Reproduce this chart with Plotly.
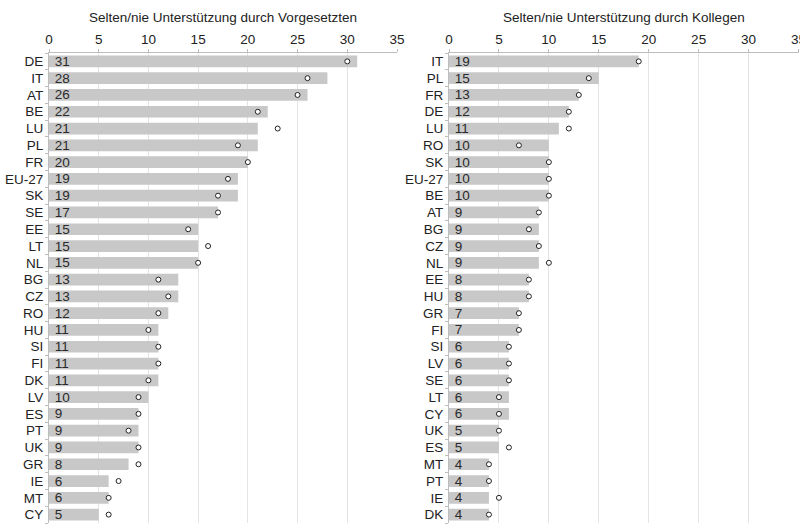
import plotly.graph_objects as go

# Left panel: Vorgesetzte
left_cats = ["DE", "IT", "AT", "BE", "LU", "PL", "FR", "EU-27", "SK", "SE", "EE", "LT", "NL",
             "BG", "CZ", "RO", "HU", "SI", "FI", "DK", "LV", "ES", "PT", "UK", "GR", "IE", "MT", "CY"]
left_bars = [31, 28, 26, 22, 21, 21, 20, 19, 19, 17, 15, 15, 15,
             13, 13, 12, 11, 11, 11, 11, 10, 9, 9, 9, 8, 6, 6, 5]
left_marks = [30, 26, 25, 21, 23, 19, 20, 18, 17, 17, 14, 16, 15,
              11, 12, 11, 10, 11, 11, 10, 9, 9, 8, 9, 9, 7, 6, 6]

# Right panel: Kollegen
right_cats = ["IT", "PL", "FR", "DE", "LU", "RO", "SK", "EU-27", "BE", "AT", "BG", "CZ", "NL",
              "EE", "HU", "GR", "FI", "SI", "LV", "SE", "LT", "CY", "UK", "ES", "MT", "PT", "IE", "DK"]
right_bars = [19, 15, 13, 12, 11, 10, 10, 10, 10, 9, 9, 9, 9,
              8, 8, 7, 7, 6, 6, 6, 6, 6, 5, 5, 4, 4, 4, 4]
right_marks = [19, 14, 13, 12, 12, 7, 10, 10, 10, 9, 8, 9, 10,
               8, 8, 7, 7, 6, 6, 6, 5, 5, 5, 6, 4, 4, 5, 4]

left_title = "Selten/nie Unterstützung durch Vorgesetzten"
right_title = "Selten/nie Unterstützung durch Kollegen"
x_ticks = [0, 5, 10, 15, 20, 25, 30, 35]

FONT = "Liberation Sans, Arial, sans-serif"
BAR_COLOR = "#c8c8c8"
TXT = "#222222"

fig = go.Figure()

for cats, bars, marks, xa, ya in [
    (left_cats, left_bars, left_marks, "x", "y"),
    (right_cats, right_bars, right_marks, "x2", "y2"),
]:
    fig.add_trace(go.Bar(
        y=cats, x=bars, orientation="h",
        marker=dict(color=BAR_COLOR, line=dict(width=0)),
        width=0.7,
        text=["\u2009" + str(v) for v in bars],
        textposition="inside", insidetextanchor="start", textangle=0,
        textfont=dict(family=FONT, size=13.5, color="#2a2a2a"),
        constraintext="none",
        xaxis=xa, yaxis=ya, showlegend=False, hoverinfo="x+y",
    ))
    fig.add_trace(go.Scatter(
        y=cats, x=marks, mode="markers",
        marker=dict(symbol="circle", size=5, color="white",
                    line=dict(color="#222222", width=1)),
        xaxis=xa, yaxis=ya, showlegend=False,
    ))

xcommon = dict(
    range=[0, 35], side="top", tickvals=x_ticks,
    showgrid=True, gridcolor="#e4e4e4", gridwidth=1,
    showline=True, linecolor="#bdbdbd", linewidth=1,
    ticks="outside", ticklen=3, tickcolor="#bdbdbd",
    tickfont=dict(family=FONT, size=13.5, color=TXT),
    ticklabeloverflow="allow",
    zeroline=False, fixedrange=True, automargin=False,
)


def ycommon(cats):
    n = len(cats)
    return dict(
        type="category", range=[n - 0.5, -0.5],
        tickmode="array", tickvals=cats, ticktext=cats,
        showline=True, linecolor="#bdbdbd", linewidth=1,
        ticks="outside", ticklen=3, tickcolor="#bdbdbd", tickson="boundaries",
        tickfont=dict(family=FONT, size=13.5, color=TXT),
        ticklabelstandoff=2,
        showgrid=False, fixedrange=True, automargin=False,
    )


W, H = 800, 525
T, B = 53, 2
fig.update_layout(
    width=W, height=H,
    margin=dict(l=0, r=0, t=T, b=B, pad=0),
    plot_bgcolor="white", paper_bgcolor="white",
    xaxis=dict(domain=[49 / W, 397 / W], anchor="y", **xcommon),
    yaxis=dict(domain=[0, 1], anchor="x", **ycommon(left_cats)),
    xaxis2=dict(domain=[449 / W, 798.5 / W], anchor="y2", **xcommon),
    yaxis2=dict(domain=[0, 1], anchor="x2", **ycommon(right_cats)),
)
plot_h = H - T - B
title_y = (H - B - 18) / plot_h
for txt, cx in [(left_title, (49 + 397) / 2 / W), (right_title, (449 + 798.5) / 2 / W)]:
    fig.add_annotation(text=txt, x=cx, y=title_y, xref="paper", yref="paper",
                       xanchor="center", yanchor="middle", showarrow=False,
                       font=dict(family=FONT, size=13.5, color=TXT))

fig.write_html("out.html", config={"displayModeBar": False},
               post_script="document.body.style.margin='0';")
